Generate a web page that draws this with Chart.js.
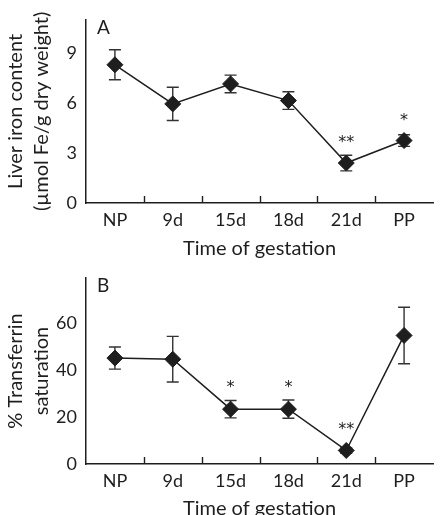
<!DOCTYPE html>
<html><head><meta charset="utf-8">
<script src="https://cdn.jsdelivr.net/npm/chart.js@4"></script>
<style>
html,body{margin:0;padding:0;background:#fff;}
#wrap{position:relative;width:442px;height:515px;overflow:hidden;background:#fff;}
.panel{position:absolute;left:0;width:442px;}
</style></head><body>
<div id="wrap">
<div class="panel" style="top:0;height:265px"><canvas id="cA"></canvas></div>
<div class="panel" style="top:250px;height:275px"><canvas id="cB"></canvas></div>
</div>
<script>
const categories = ['NP', '9d', '15d', '18d', '21d', 'PP'];
const ironMean = [8.3, 5.95, 7.15, 6.15, 2.4, 3.75];
const ironErr = [0.9, 1.0, 0.53, 0.53, 0.47, 0.35];
const ironMarks = ['', '', '', '', '**', '*'];
const ironTicks = [0, 3, 6, 9];
const satMean = [45.0, 44.5, 23.3, 23.3, 5.75, 54.6];
const satErr = [4.7, 9.7, 3.7, 3.9, 1.2, 12.0];
const satMarks = ['', '', '*', '*', '**', ''];
const satTicks = [0, 20, 40, 60];

const FONT = 'Lato, "DejaVu Sans", sans-serif';
const INK = '#1e1e1e';
const PR = 8;

function extras(means, errs, marks, letter) {
  return {
    id: 'extras',
    beforeDatasetsDraw(chart) {
      const ctx = chart.ctx, xs = chart.scales.x, ys = chart.scales.y;
      ctx.save();
      ctx.strokeStyle = '#333';
      ctx.lineWidth = 1.4;
      means.forEach((m, i) => {
        const x = xs.getPixelForValue(i);
        const yT = ys.getPixelForValue(m + errs[i]);
        const yB = ys.getPixelForValue(m - errs[i]);
        ctx.beginPath();
        ctx.moveTo(x, yT); ctx.lineTo(x, yB);
        ctx.moveTo(x - 6, yT); ctx.lineTo(x + 6, yT);
        ctx.moveTo(x - 6, yB); ctx.lineTo(x + 6, yB);
        ctx.stroke();
      });
      ctx.restore();
    },
    afterDraw(chart) {
      const ctx = chart.ctx, xs = chart.scales.x, ys = chart.scales.y, a = chart.chartArea;
      ctx.save();
      ctx.strokeStyle = INK;
      ctx.lineWidth = 1.4;
      for (let i = 1; i < categories.length; i++) {
        const x = Math.round((xs.getPixelForValue(i - 1) + xs.getPixelForValue(i)) / 2) + 0.5;
        ctx.beginPath();
        ctx.moveTo(x, a.bottom); ctx.lineTo(x, a.bottom - 7);
        ctx.stroke();
      }
      ctx.fillStyle = INK;
      ctx.textAlign = 'center';
      ctx.textBaseline = 'alphabetic';
      ctx.font = '16px "DejaVu Sans", sans-serif';
      marks.forEach((s, i) => {
        if (!s) return;
        const x = xs.getPixelForValue(i);
        const yT = Math.min(ys.getPixelForValue(means[i] + errs[i]), ys.getPixelForValue(means[i]) - PR);
        ctx.fillText(s, x, yT - 8);
      });
      ctx.font = '19px ' + FONT;
      ctx.textAlign = 'left';
      ctx.textBaseline = 'middle';
      ctx.fillText(letter, a.left + 11, a.top + 8);
      ctx.restore();
    }
  };
}

function makeChart(id, means, errs, marks, ticksArr, yMax, titleLines, letter, padTop, xAxisHeight) {
  return new Chart(document.getElementById(id), {
    type: 'line',
    data: {
      labels: categories,
      datasets: [{
        data: means,
        borderColor: INK, borderWidth: 1.5,
        pointStyle: 'rectRot', pointRadius: PR, pointHoverRadius: PR,
        pointBackgroundColor: INK, pointBorderColor: INK, pointBorderWidth: 1,
        tension: 0, fill: false
      }]
    },
    options: {
      responsive: true, maintainAspectRatio: false, animation: false, devicePixelRatio: 1,
      layout: { padding: { top: padTop, right: 0, left: 0, bottom: 0 } },
      plugins: { legend: { display: false }, tooltip: { enabled: false } },
      scales: {
        x: {
          offset: true,
          grid: { display: true, drawOnChartArea: false, drawTicks: false },
          border: { display: true, color: INK, width: 1.5 },
          ticks: { color: INK, font: { family: FONT, size: 18 }, padding: 6, maxRotation: 0, autoSkip: false },
          title: { display: true, text: 'Time of gestation', color: INK, font: { family: FONT, size: 20 }, padding: { top: 2, bottom: 4 } },
          afterFit(s) { s.height = xAxisHeight; }
        },
        y: {
          min: 0, max: yMax,
          grid: { display: true, drawOnChartArea: false, drawTicks: false },
          border: { display: true, color: INK, width: 1.5 },
          ticks: { color: INK, font: { family: FONT, size: 18 }, padding: 9, includeBounds: false },
          afterBuildTicks(s) { s.ticks = ticksArr.map(v => ({ value: v })); },
          title: { display: true, text: titleLines, color: INK, font: { family: FONT, size: 20, lineHeight: 1.3 }, padding: { top: 3, bottom: 0 } },
          afterFit(s) { s.width = 86; }
        }
      }
    },
    plugins: [extras(means, errs, marks, letter)]
  });
}

makeChart('cA', ironMean, ironErr, ironMarks, ironTicks, 11,
  ['Liver iron content', '(µmol Fe/g dry weight)'], 'A', 17, 62);
makeChart('cB', satMean, satErr, satMarks, satTicks, 79,
  ['% Transferrin', 'saturation'], 'B', 28, 275 - 214);
</script>
</body></html>
